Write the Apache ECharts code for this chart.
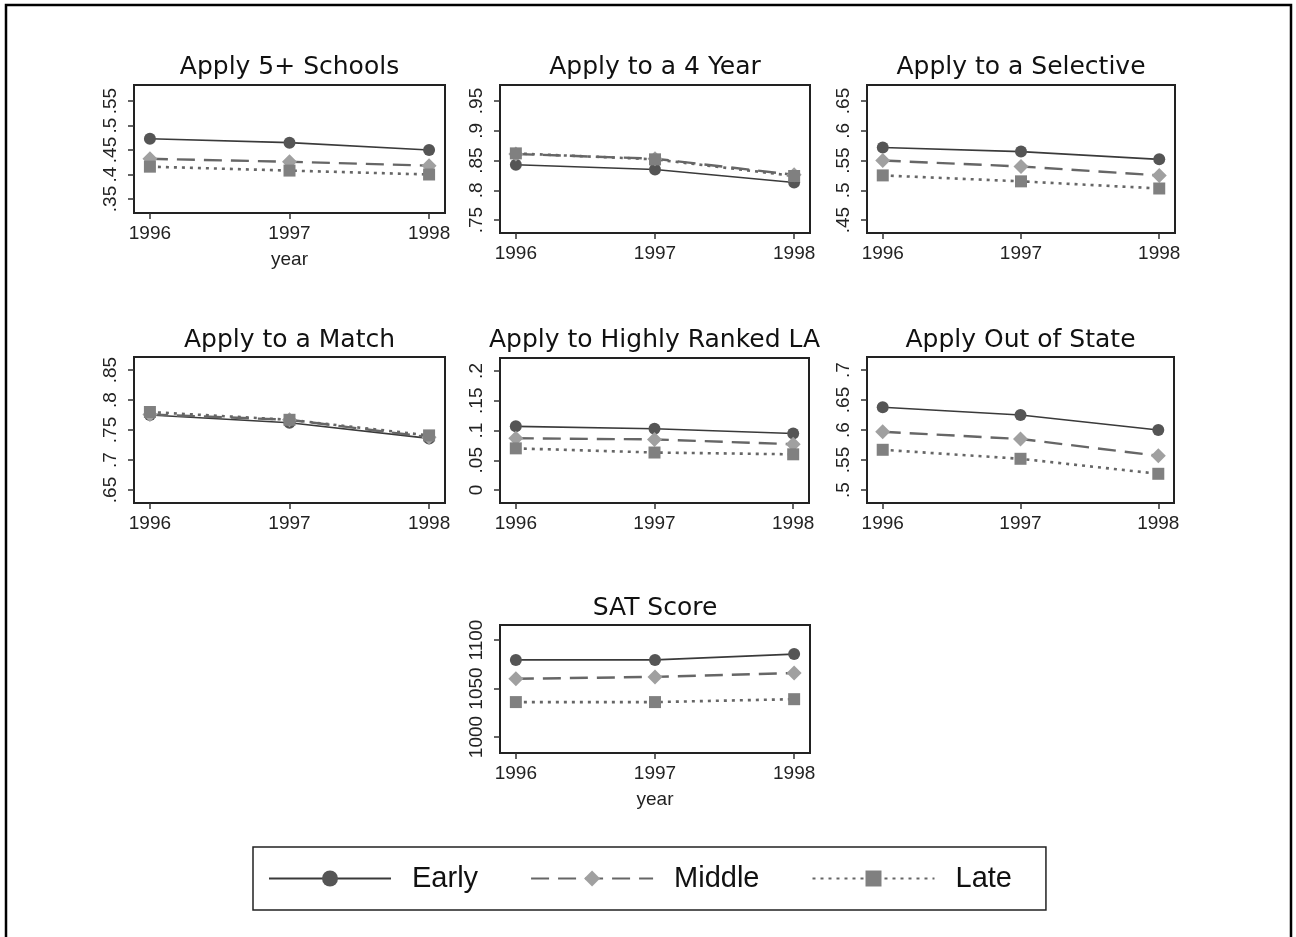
<!DOCTYPE html>
<html>
<head>
<meta charset="utf-8">
<title>Apply by timing</title>
<script src="https://cdn.jsdelivr.net/npm/echarts@6/dist/echarts.min.js"></script>
<style>
    html, body { margin: 0; padding: 0; background: #fff; }
    #main { width: 1296px; height: 937px; }
</style>
</head>
<body>
<div id="main"></div>
<script>
//数据
var years = [1996, 1997, 1998];
var panelTitles = ['Apply 5+ Schools', 'Apply to a 4 Year', 'Apply to a Selective',
    'Apply to a Match', 'Apply to Highly Ranked LA', 'Apply Out of State', 'SAT Score'];
var seriesNames = ['Early', 'Middle', 'Late'];

var earlyVals = [
    [0.473, 0.465, 0.450],
    [0.843, 0.835, 0.813],
    [0.572, 0.565, 0.552],
    [0.775, 0.762, 0.736],
    [0.107, 0.103, 0.095],
    [0.638, 0.625, 0.600],
    [1079.5, 1079.5, 1085.5]
];
var middleVals = [
    [0.432, 0.426, 0.418],
    [0.861, 0.853, 0.826],
    [0.550, 0.540, 0.525],
    [0.776, 0.767, 0.738],
    [0.087, 0.085, 0.077],
    [0.597, 0.585, 0.557],
    [1060, 1062, 1066]
];
var lateVals = [
    [0.416, 0.408, 0.400],
    [0.862, 0.852, 0.824],
    [0.525, 0.515, 0.503],
    [0.780, 0.767, 0.741],
    [0.070, 0.063, 0.060],
    [0.567, 0.552, 0.527],
    [1036, 1036, 1039]
];

//y轴刻度
var yTicks = [
    [0.35, 0.4, 0.45, 0.5, 0.55],
    [0.75, 0.8, 0.85, 0.9, 0.95],
    [0.45, 0.5, 0.55, 0.6, 0.65],
    [0.65, 0.7, 0.75, 0.8, 0.85],
    [0, 0.05, 0.1, 0.15, 0.2],
    [0.5, 0.55, 0.6, 0.65, 0.7],
    [1000, 1050, 1100]
];
var yMin = [0.3214, 0.7282, 0.4282, 0.6283, -0.0218, 0.4783, 983.5];
var yMax = [0.5827, 0.9769, 0.6769, 0.8717, 0.2218, 0.7217, 1115.5];

//每个小图的位置 [left, top, width, height]
var boxes = [
    [134, 85, 311, 128],
    [500, 85, 310, 148],
    [867, 85, 308, 148],
    [134, 357, 311, 146],
    [500, 358, 309, 145],
    [867, 357, 307, 146],
    [500, 625, 310, 128]
];
var titleTops = [55, 55, 55, 328, 328, 328, 596];
var showYear = [true, false, false, false, false, false, true];

var font = 'Liberation Sans';
var titleFont = 'DejaVu Sans';
var xPad = 0.114;

function fmtTick(v) {
    return String(v).replace(/^0\./, '.').replace(/^-0\./, '-.');
}

function pairs(vals) {
    var out = [];
    for (var i = 0; i < years.length; i++) {
        out.push([years[i], vals[i]]);
    }
    return out;
}

var grids = [], xAxes = [], yAxes = [], titles = [], series = [];

for (var i = 0; i < panelTitles.length; i++) {
    var b = boxes[i];
    grids.push({
        left: b[0], top: b[1], width: b[2], height: b[3],
        show: true, borderColor: '#222', borderWidth: 2, backgroundColor: '#fff'
    });
    titles.push({
        text: panelTitles[i],
        left: b[0] + b[2] / 2,
        top: titleTops[i],
        textAlign: 'center',
        padding: 0,
        textStyle: { fontFamily: titleFont, fontSize: 25, fontWeight: 'normal', color: '#111' }
    });
    xAxes.push({
        type: 'value',
        gridIndex: i,
        min: years[0] - xPad,
        max: years[years.length - 1] + xPad,
        name: showYear[i] ? 'year' : '',
        nameLocation: 'middle',
        nameGap: 37,
        nameTextStyle: { fontFamily: font, fontSize: 19, color: '#222' },
        splitLine: { show: false },
        axisLine: { show: false, onZero: false },
        axisTick: { show: true, length: 6, lineStyle: { color: '#333', width: 1.5 }, customValues: years },
        axisLabel: {
            fontFamily: font, fontSize: 19, color: '#222', margin: 11,
            customValues: years,
            formatter: function (v) { return String(v); }
        }
    });
    yAxes.push({
        type: 'value',
        gridIndex: i,
        min: yMin[i],
        max: yMax[i],
        splitLine: { show: false },
        axisLine: { show: false, onZero: false },
        axisTick: { show: true, length: 6, lineStyle: { color: '#333', width: 1.5 }, customValues: yTicks[i] },
        axisLabel: {
            fontFamily: font, fontSize: 19, color: '#222', margin: 14, rotate: 90,
            customValues: yTicks[i],
            formatter: fmtTick
        }
    });

    //三条线
    series.push({
        name: 'Early', type: 'line', xAxisIndex: i, yAxisIndex: i,
        data: pairs(earlyVals[i]),
        symbol: 'circle', symbolSize: 12,
        lineStyle: { color: '#3a3a3a', width: 1.6, type: 'solid' },
        itemStyle: { color: '#555' }
    });
    series.push({
        name: 'Middle', type: 'line', xAxisIndex: i, yAxisIndex: i,
        data: pairs(middleVals[i]),
        symbol: 'diamond', symbolSize: 15,
        lineStyle: { color: '#666', width: 2.4, type: [18, 9] },
        itemStyle: { color: '#a0a0a0' }
    });
    series.push({
        name: 'Late', type: 'line', xAxisIndex: i, yAxisIndex: i,
        data: pairs(lateVals[i]),
        symbol: 'rect', symbolSize: 12,
        lineStyle: { color: '#666', width: 2.6, type: [3, 5] },
        itemStyle: { color: '#808080' }
    });
}

var myChart = echarts.init(document.getElementById('main'));

var option = {
    animation: false,
    backgroundColor: '#fff',
    title: titles,
    grid: grids,
    xAxis: xAxes,
    yAxis: yAxes,
    legend: {
        data: seriesNames,
        left: 253,
        top: 847,
        orient: 'horizontal',
        itemWidth: 122,
        itemHeight: 20,
        itemGap: 52,
        padding: [17, 34, 17, 15],
        borderColor: '#222',
        borderWidth: 1.5,
        selectedMode: false,
        textStyle: { fontFamily: font, fontSize: 29, color: '#111', padding: [0, 0, 0, 16] }
    },
    graphic: [{
        type: 'rect',
        shape: { x: 6, y: 5, width: 1285, height: 940 },
        style: { fill: 'none', stroke: '#000', lineWidth: 2.5 },
        silent: true
    }],
    series: series
};

myChart.setOption(option);
</script>
</body>
</html>
